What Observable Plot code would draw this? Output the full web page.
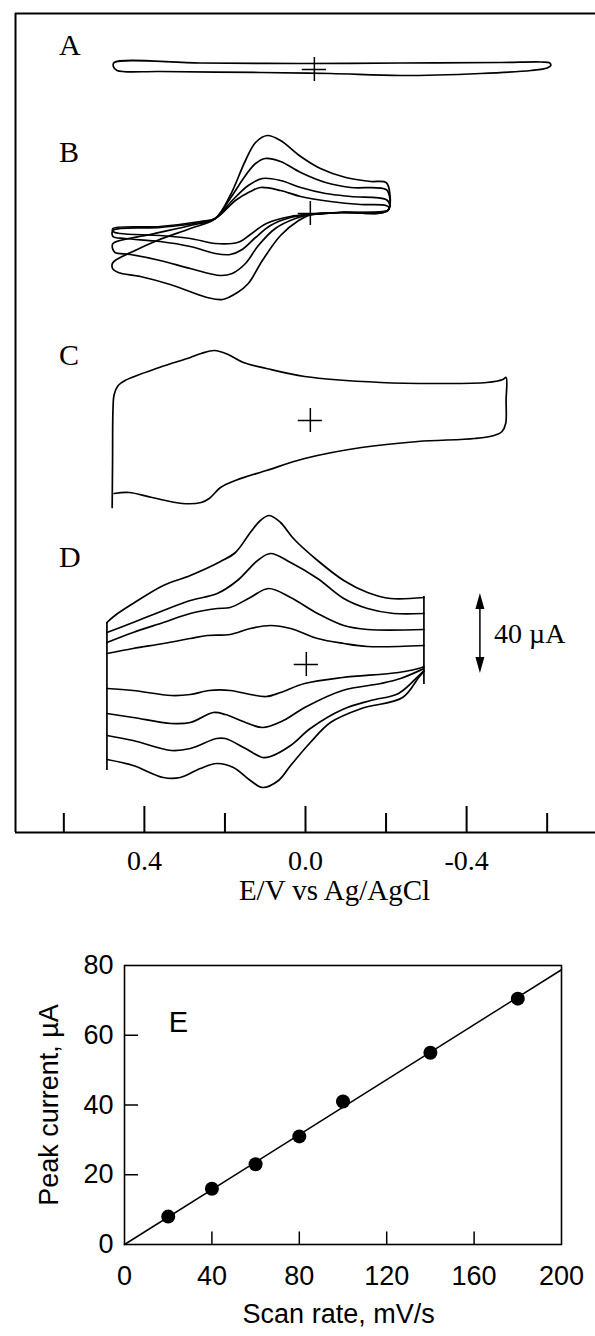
<!DOCTYPE html>
<html>
<head>
<meta charset="utf-8">
<script src="https://cdn.jsdelivr.net/npm/d3@7"></script>
<script src="https://cdn.jsdelivr.net/npm/@observablehq/plot@0.6"></script>
<style>
  html, body { margin: 0; padding: 0; background: #fff; }
  #chart svg { display: block; }
</style>
</head>
<body>
<div id="chart"></div>
<script>
// ================= DATA =================
// Panels A–D : cyclic voltammograms, E (V vs Ag/AgCl), I (µA, relative to each panel's "+" origin)
const panels = ["A", "B", "C", "D"];

const cvA = [[0.475,3.5],[0.261,3.25],[0.012,3],[-0.236,3.25],[-0.485,3.5],[-0.585,3.75],[-0.606,3.3],
  [-0.609,2],[-0.600,0.75],[-0.560,-0.5],[-0.435,-2],[-0.236,-3],[-0.062,-2],[0.112,-1.5],[0.361,-1],
  [0.468,-0.5],[0.477,1.5]];

const cvB1 = [[0.478,-7.5],[0.361,-6.5],[0.261,-4],[0.224,-2.5],[0.174,6.5],[0.137,11],[0.112,13],[0.062,11.5],
  [0.012,8.5],[-0.062,6],[-0.137,4.5],[-0.200,4],[-0.208,2.8],[-0.204,1.5],[-0.087,0.5],[-0.015,-0.5],
  [0.037,-1.5],[0.097,-5],[0.137,-10.5],[0.162,-14],[0.182,-15],[0.224,-15],[0.286,-12.5],[0.361,-11],
  [0.460,-10],[0.478,-9]];
const cvB2 = [[0.478,-8.5],[0.361,-7],[0.261,-4.5],[0.224,-2.5],[0.182,6.5],[0.142,14],[0.107,17.5],[0.062,16.5],
  [0.012,13],[-0.050,10],[-0.112,8.5],[-0.200,7],[-0.209,4.5],[-0.204,1.5],[-0.087,0.5],[-0.015,-0.5],
  [0.037,-2],[0.087,-6],[0.124,-12],[0.157,-18],[0.187,-20.5],[0.224,-20],[0.286,-16.5],[0.361,-14],
  [0.448,-12.5],[0.478,-11.5]];
const cvB3 = [[0.478,-15],[0.386,-10.5],[0.286,-6],[0.224,-2.5],[0.187,7.5],[0.149,19],[0.124,25],[0.100,27.5],
  [0.062,26],[0.012,20.5],[-0.050,15.5],[-0.112,13],[-0.200,12],[-0.209,8],[-0.204,1.5],[-0.087,0.5],
  [-0.015,-0.5],[0.025,-2.5],[0.075,-7.5],[0.117,-16],[0.149,-25],[0.182,-30],[0.211,-31],[0.286,-27.5],
  [0.361,-23.5],[0.435,-20.5],[0.473,-19.5],[0.479,-17.5]];
const cvB4 = [[0.478,-24.5],[0.423,-18.5],[0.368,-13.5],[0.286,-7.5],[0.224,-2.5],[0.187,9],[0.149,26.5],
  [0.124,35.5],[0.095,39],[0.062,36.5],[0.012,28.5],[-0.037,22.5],[-0.100,18],[-0.162,16],[-0.200,15.5],
  [-0.209,10.5],[-0.204,1.5],[-0.087,0.5],[-0.015,-0.5],[0.017,-3.5],[0.062,-11],[0.107,-23.5],[0.142,-35],
  [0.169,-39.5],[0.206,-43],[0.244,-42],[0.336,-35.5],[0.410,-31.5],[0.465,-29.5],[0.479,-27.5]];

const cvC = [[0.480,-43.5],[0.479,-20],[0.478,5],[0.475,13],[0.465,17.5],[0.448,20],[0.363,26.5],[0.286,31.5],
  [0.259,33.5],[0.226,35],[0.192,33],[0.154,29],[0.097,26],[0.002,22],[-0.187,19],[-0.326,18.5],[-0.450,19],
  [-0.490,20.5],[-0.498,21.5],[-0.498,10],[-0.497,-1.5],[-0.488,-5.5],[-0.468,-7.5],[-0.420,-9],[-0.279,-10.5],
  [-0.139,-13.5],[0.002,-19],[0.097,-25],[0.174,-30],[0.211,-33.5],[0.239,-39],[0.259,-41],[0.306,-41.5],
  [0.381,-38.5],[0.438,-36],[0.475,-36.5]];

// Panel D: forward (upper) and reverse (lower) sweeps, four scan rates
const dUp1 = [[0.493,21],[0.473,24.5],[0.428,30.5],[0.353,39.5],[0.286,44.5],[0.211,51.5],[0.174,56],[0.137,66],
  [0.112,72],[0.090,74.5],[0.062,71],[0.030,63],[-0.030,52],[-0.095,42],[-0.154,36],[-0.211,33],[-0.294,33.5]];
const dUp2 = [[0.493,16],[0.428,21],[0.353,27],[0.286,32],[0.219,35.5],[0.169,42],[0.119,52],[0.087,55.5],
  [0.037,51],[-0.030,43],[-0.095,33],[-0.154,28],[-0.219,25.5],[-0.294,25.5]];
const dUp3 = [[0.493,11],[0.428,16],[0.353,21],[0.286,25.5],[0.219,28],[0.187,28.5],[0.137,33.5],[0.092,38],
  [0.037,33.5],[-0.030,25.5],[-0.095,19.5],[-0.154,17.5],[-0.294,17.5]];
const dUp4 = [[0.493,5.5],[0.428,8],[0.353,10.5],[0.286,13],[0.244,14.5],[0.187,15],[0.137,18],[0.087,19.5],
  [0.037,18],[-0.030,13],[-0.095,10.5],[-0.154,9],[-0.294,9.5]];
const dLow1 = [[-0.294,-1],[-0.289,-1.5],[-0.231,-4],[-0.092,-6.5],[0.002,-9.5],[0.062,-14],[0.097,-16],
  [0.137,-15],[0.187,-13],[0.239,-13],[0.286,-15],[0.333,-15.5],[0.428,-13],[0.493,-12]];
const dLow2 = [[-0.294,-2],[-0.289,-2.5],[-0.236,-7],[-0.187,-9.5],[-0.092,-13],[0.002,-21.5],[0.055,-28],
  [0.107,-31.5],[0.149,-29],[0.199,-25],[0.229,-24],[0.286,-29],[0.333,-29.5],[0.428,-26.5],[0.493,-24.5]];
const dLow3 = [[-0.294,-3],[-0.284,-5],[-0.231,-14.5],[-0.162,-18],[-0.092,-22.5],[-0.012,-32],[0.037,-40.5],
  [0.087,-46],[0.107,-46.5],[0.149,-42],[0.199,-37],[0.221,-37],[0.286,-42],[0.333,-43],[0.428,-38],[0.493,-35.5]];
const dLow4 = [[-0.294,-3.5],[-0.281,-6.5],[-0.241,-16.5],[-0.139,-22],[-0.062,-29],[-0.012,-39],[0.037,-50.5],
  [0.067,-58],[0.107,-61.5],[0.137,-58],[0.179,-51.5],[0.221,-49.5],[0.261,-52],[0.311,-56.5],[0.353,-56.5],
  [0.428,-50.5],[0.493,-47.5]];
// potential-switching edges of panel D (E, current span)
const dSwitch = [{E: 0.493, lo: -53, hi: 21}, {E: -0.294, lo: -10, hi: 34}];

// "+" origin markers (E of each panel's origin)
const crossE = [-0.022, -0.012, -0.012, -0.002];

// 40 µA scale bar
const scaleBarValue = 40;
const scaleBarLabel = "40 µA";

// x-axis ticks
const majorTicks = [0.4, 0.0, -0.4];
const minorTicks = [0.6, 0.2, -0.2, -0.6];
const xAxisTitle = "E/V vs Ag/AgCl";

// Panel E: peak current vs scan rate
const scanRate = [20, 40, 60, 80, 100, 140, 180];
const peakCurrent = [8, 16, 23, 31, 41, 55, 70.5];
const eXTicks = [0, 40, 80, 120, 160, 200];
const eYTicks = [0, 20, 40, 60, 80];

// ================= LAYOUT =================
const serif = "'Liberation Serif', 'Times New Roman', serif";
const sans = "'Liberation Sans', Arial, sans-serif";
const stackOffset = {A: 381.5, B: 309.5, C: 206, D: 84};   // vertical stacking of panels
const labelPos = {A: [0.612, 12], B: [0.612, 30.5], C: [0.612, 32.5], D: [0.612, 53.5]};
const barAt = {E: -0.433, mid: 15.75};

function toRows(panel, id, pts) {
  return pts.map(([E, I], i) => ({panel, id, i, E, y: stackOffset[panel] + I}));
}
const closedRows = [
  ...toRows("A", "A", cvA),
  ...toRows("B", "B1", cvB1), ...toRows("B", "B2", cvB2),
  ...toRows("B", "B3", cvB3), ...toRows("B", "B4", cvB4)
];
const openRows = [
  ...toRows("C", "C", cvC),
  ...toRows("D", "u1", dUp1), ...toRows("D", "u2", dUp2), ...toRows("D", "u3", dUp3), ...toRows("D", "u4", dUp4),
  ...toRows("D", "l1", dLow1), ...toRows("D", "l2", dLow2), ...toRows("D", "l3", dLow3), ...toRows("D", "l4", dLow4)
];
const crossRows = panels.map((p, k) => ({E: crossE[k], y: stackOffset[p]}));
const labelRows = panels.map(p => ({text: p, E: labelPos[p][0], y: stackOffset[p] + labelPos[p][1]}));

const headUp = {draw(ctx) { ctx.moveTo(0, 0); ctx.lineTo(4.5, 16); ctx.lineTo(-4.5, 16); ctx.closePath(); }};
const headDown = {draw(ctx) { ctx.moveTo(0, 0); ctx.lineTo(4.5, -16); ctx.lineTo(-4.5, -16); ctx.closePath(); }};
const barTop = stackOffset.D + barAt.mid + scaleBarValue / 2;
const barBot = stackOffset.D + barAt.mid - scaleBarValue / 2;

const cvChart = Plot.plot({
  width: 595, height: 920,
  marginTop: 13, marginBottom: 88, marginLeft: 15, marginRight: 0,
  style: {fontFamily: serif, fontSize: "29px", color: "black", background: "white"},
  x: {domain: [0.72, -0.72]},
  y: {domain: [0, 409.5], axis: null},
  marks: [
    Plot.ruleY([409.5], {strokeWidth: 2}),
    Plot.ruleY([0], {strokeWidth: 2}),
    Plot.ruleX([0.72], {strokeWidth: 2}),
    Plot.ruleX(majorTicks, {x: d => d, y1: 0, y2: 13, strokeWidth: 2}),
    Plot.ruleX(minorTicks, {x: d => d, y1: 0, y2: 9.5, strokeWidth: 2}),
    Plot.axisX({ticks: majorTicks, tickSize: 0, tickPadding: 18, tickFormat: d => d.toFixed(1),
      label: null, fontSize: 28, fontFamily: serif}),
    Plot.text([xAxisTitle], {x: -0.072, frameAnchor: "bottom", dy: 67, fontSize: 29, fontFamily: serif}),
    Plot.line(closedRows, {x: "E", y: "y", z: "id", curve: "catmull-rom-closed", strokeWidth: 1.7, stroke: "black"}),
    Plot.line(openRows, {x: "E", y: "y", z: "id", curve: "catmull-rom", strokeWidth: 1.7, stroke: "black"}),
    Plot.ruleX(dSwitch, {x: "E", y1: d => stackOffset.D + d.lo, y2: d => stackOffset.D + d.hi, strokeWidth: 1.7}),
    Plot.ruleY(crossRows, {y: "y", x1: d => d.E + 0.03, x2: d => d.E - 0.03, strokeWidth: 1.5}),
    Plot.ruleX(crossRows, {x: "E", y1: d => d.y - 6, y2: d => d.y + 6, strokeWidth: 1.5}),
    Plot.text(labelRows, {x: "E", y: "y", text: "text", textAnchor: "start", fontSize: 30, fontFamily: serif}),
    Plot.ruleX([barAt.E], {y1: barBot + 6, y2: barTop - 6, strokeWidth: 1.5}),
    Plot.dot([barAt.E], {x: d => d, y: barTop, symbol: headUp, fill: "black", stroke: "none"}),
    Plot.dot([barAt.E], {x: d => d, y: barBot, symbol: headDown, fill: "black", stroke: "none"}),
    Plot.text([scaleBarLabel], {x: -0.468, y: stackOffset.D + 15, textAnchor: "start", fontSize: 28, fontFamily: serif})
  ]
});

const eData = scanRate.map((x, i) => ({x, y: peakCurrent[i]}));
const slope = d3.sum(eData, d => d.x * d.y) / d3.sum(eData, d => d.x * d.x);
const fitLine = [{x: 0, y: 0}, {x: 200, y: 200 * slope}];

const eChart = Plot.plot({
  width: 595, height: 416,
  marginTop: 45, marginBottom: 92, marginLeft: 124, marginRight: 34,
  style: {fontFamily: sans, fontSize: "27px", color: "black", background: "white"},
  x: {domain: [0, 200]},
  y: {domain: [0, 80]},
  marks: [
    Plot.frame({strokeWidth: 1.6}),
    Plot.ruleX(eXTicks.slice(1, -1), {x: d => d, y1: 0, y2: 3.6, strokeWidth: 1.5}),
    Plot.ruleY(eYTicks.slice(1, -1), {y: d => d, x1: 0, x2: 6.4, strokeWidth: 1.5}),
    Plot.axisX({ticks: eXTicks, tickSize: 0, tickPadding: 21, label: null, fontSize: 27, fontFamily: sans}),
    Plot.axisY({ticks: eYTicks, tickSize: 0, tickPadding: 11, label: null, fontSize: 27, fontFamily: sans}),
    Plot.line(fitLine, {x: "x", y: "y", strokeWidth: 1.5}),
    Plot.dot(eData, {x: "x", y: "y", r: 7, fill: "black", stroke: "none"}),
    Plot.text(["E"], {x: 24.7, y: 63.7, fontSize: 29, fontFamily: sans}),
    Plot.text(["Peak current, µA"], {frameAnchor: "left", y: 40, dx: -75, rotate: -90, textAnchor: "middle",
      fontSize: 27, fontFamily: sans}),
    Plot.text(["Scan rate, mV/s"], {x: 98, frameAnchor: "bottom", dy: 78, fontSize: 27, fontFamily: sans})
  ]
});

document.getElementById("chart").append(cvChart, eChart);
</script>
</body>
</html>
